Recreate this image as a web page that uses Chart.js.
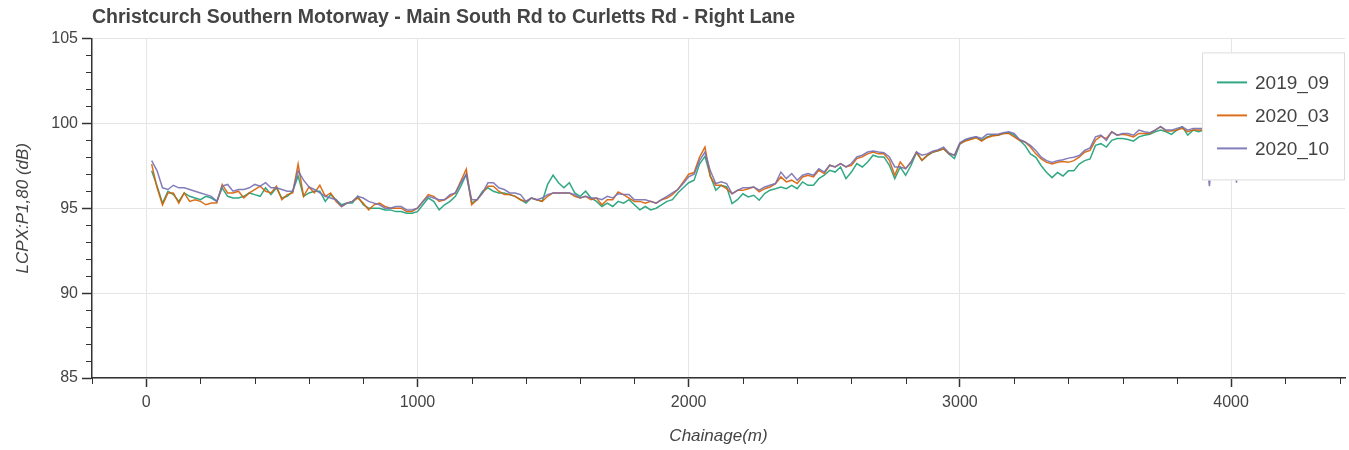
<!DOCTYPE html>
<html>
<head>
<meta charset="utf-8">
<title>Christcurch Southern Motorway - Right Lane</title>
<script src="https://cdn.jsdelivr.net/npm/chart.js@4.4.1/dist/chart.umd.min.js"></script>
<style>
    html, body { margin: 0; padding: 0; background: #fff; }
    canvas { display: block; }
</style>
</head>
<body>
<canvas id="lcpxChart" width="1349" height="450"></canvas>
<script>
// Survey chainage (m)
const chainage = [
    20, 40, 60, 80, 100, 120, 140, 160, 180, 200,
    220, 240, 260, 280, 300, 320, 340, 360, 380, 400,
    420, 440, 460, 480, 500, 520, 540, 560, 580, 600,
    620, 640, 660, 680, 700, 720, 740, 760, 780, 800,
    820, 840, 860, 880, 900, 920, 940, 960, 980, 1000,
    1020, 1040, 1060, 1080, 1100, 1120, 1140, 1160, 1180, 1200,
    1220, 1240, 1260, 1280, 1300, 1320, 1340, 1360, 1380, 1400,
    1420, 1440, 1460, 1480, 1500, 1520, 1540, 1560, 1580, 1600,
    1620, 1640, 1660, 1680, 1700, 1720, 1740, 1760, 1780, 1800,
    1820, 1840, 1860, 1880, 1900, 1920, 1940, 1960, 1980, 2000,
    2020, 2040, 2060, 2080, 2100, 2120, 2140, 2160, 2180, 2200,
    2220, 2240, 2260, 2280, 2300, 2320, 2340, 2360, 2380, 2400,
    2420, 2440, 2460, 2480, 2500, 2520, 2540, 2560, 2580, 2600,
    2620, 2640, 2660, 2680, 2700, 2720, 2740, 2760, 2780, 2800,
    2820, 2840, 2860, 2880, 2900, 2920, 2940, 2960, 2980, 3000,
    3020, 3040, 3060, 3080, 3100, 3120, 3140, 3160, 3180, 3200,
    3220, 3240, 3260, 3280, 3300, 3320, 3340, 3360, 3380, 3400,
    3420, 3440, 3460, 3480, 3500, 3520, 3540, 3560, 3580, 3600,
    3620, 3640, 3660, 3680, 3700, 3720, 3740, 3760, 3780, 3800,
    3820, 3840, 3860, 3880, 3900, 3920, 3940, 3960, 3980, 4000,
    4020, 4040
];

// LCPX:P1,80 (dB) per survey
const survey2019_09 = [
    97.2, 96.3, 95.3, 96.0, 95.8, 95.4, 95.9, 95.7, 95.6, 95.5,
    95.7, 95.6, 95.4, 96.2, 95.7, 95.6, 95.6, 95.7, 95.9, 95.8,
    95.7, 96.2, 95.8, 96.2, 95.6, 95.7, 96.0, 96.9, 95.7, 95.9,
    96.0, 96.0, 95.4, 95.8, 95.5, 95.2, 95.3, 95.3, 95.7, 95.2,
    95.0, 95.0, 95.0, 94.9, 94.9, 94.8, 94.8, 94.7, 94.7, 94.8,
    95.2, 95.6, 95.4, 94.9, 95.2, 95.4, 95.7, 96.3, 97.0, 95.3,
    95.5, 96.0, 96.2, 96.0, 95.9, 95.9, 95.8, 95.7, 95.5, 95.3,
    95.6, 95.5, 95.4, 96.4, 96.95, 96.5, 96.2, 96.5, 95.9, 95.7,
    96.0, 95.6, 95.4, 95.1, 95.3, 95.1, 95.4, 95.3, 95.5, 95.2,
    94.9, 95.1, 94.9, 95.0, 95.2, 95.4, 95.5, 95.9, 96.2, 96.5,
    96.65, 97.6, 98.05, 96.9, 96.06, 96.35, 96.25, 95.27, 95.5, 95.85,
    95.66, 95.76, 95.47, 95.86, 96.06, 96.15, 96.25, 96.15, 96.35, 96.15,
    96.55, 96.35, 96.35, 96.74, 96.94, 97.23, 97.13, 97.43, 96.74, 97.13,
    97.63, 97.43, 97.72, 98.12, 98.02, 98.02, 97.53, 96.74, 97.43, 96.94,
    97.53, 98.28, 97.82, 98.1, 98.3, 98.38, 98.5, 98.18, 97.92, 98.78,
    99.0, 99.1, 99.2, 99.0, 99.2, 99.3, 99.3, 99.4, 99.45, 99.3,
    99.0, 98.7, 98.2, 98.0, 97.5, 97.1, 96.8, 97.1, 96.9, 97.2,
    97.2, 97.6, 97.8, 97.9, 98.7, 98.8, 98.6, 99.0, 99.1, 99.1,
    99.05, 98.95, 99.2, 99.3, 99.35, 99.5, 99.6, 99.5, 99.35, 99.6,
    99.8, 99.3, 99.6, 99.5, 99.6, 99.6, 99.7, 99.6, 99.7, 99.7,
    99.6, 99.7
];

const survey2020_03 = [
    97.6, 96.2, 95.2, 95.9, 95.9, 95.3, 95.9, 95.4, 95.5, 95.4,
    95.2, 95.3, 95.3, 96.4, 95.9, 95.9, 96.0, 95.6, 95.9, 96.1,
    96.3, 96.0, 95.9, 96.3, 95.5, 95.8, 95.9, 97.6, 95.7, 96.25,
    95.9, 96.35, 95.7, 95.9, 95.4, 95.1, 95.3, 95.4, 95.6, 95.3,
    94.9, 95.2, 95.3, 95.1, 95.0, 95.0, 95.0, 94.8, 94.8, 95.0,
    95.4, 95.8, 95.7, 95.4, 95.5, 95.7, 95.9, 96.6, 97.3, 95.2,
    95.5, 95.9, 96.3, 96.3, 96.0, 95.8, 95.8, 95.7, 95.5, 95.4,
    95.6, 95.5, 95.4, 95.7, 95.9, 95.9, 95.9, 95.9, 95.7, 95.6,
    95.7, 95.5, 95.6, 95.2, 95.5, 95.5, 95.96, 95.8, 95.6, 95.4,
    95.4, 95.3, 95.4, 95.3, 95.5, 95.6, 95.8, 96.1, 96.55, 97.0,
    97.1, 98.0, 98.6, 96.85, 96.35, 96.35, 96.15, 95.85, 96.05, 96.05,
    96.15, 96.25, 95.96, 96.15, 96.25, 96.45, 96.84, 96.55, 96.65, 96.45,
    96.84, 96.94, 96.84, 97.23, 97.04, 97.53, 97.43, 97.63, 97.43, 97.53,
    97.92, 98.02, 98.2, 98.31, 98.2, 98.2, 97.82, 96.94, 97.72, 97.33,
    97.72, 98.31, 97.82, 98.12, 98.31, 98.4, 98.5, 98.2, 98.12, 98.8,
    98.95, 99.05, 99.15, 98.95, 99.15, 99.25, 99.3, 99.4, 99.4, 99.2,
    99.0, 98.9, 98.6, 98.2, 97.9, 97.7, 97.6, 97.7, 97.75, 97.7,
    97.8, 98.0, 98.3, 98.4, 99.0, 99.25, 99.1, 99.5, 99.3, 99.35,
    99.3, 99.2, 99.4, 99.4, 99.4, 99.6, 99.8, 99.55, 99.55, 99.6,
    99.7, 99.5, 99.6, 99.6, 99.6, 99.6, 99.7, 99.6, 99.7, 99.7,
    99.7, 99.7
];

const survey2020_10 = [
    97.8, 97.2, 96.2, 96.1, 96.35, 96.2, 96.2, 96.1, 96.0, 95.9,
    95.8, 95.7, 95.4, 96.3, 96.4, 96.0, 96.1, 96.1, 96.2, 96.4,
    96.3, 96.5, 96.2, 96.2, 96.1, 96.0, 96.0, 97.2, 96.65, 96.25,
    96.1, 95.9, 95.7, 95.6, 95.5, 95.1, 95.3, 95.4, 95.7, 95.6,
    95.4, 95.3, 95.2, 95.0, 95.0, 95.1, 95.1, 94.9, 94.9, 95.0,
    95.4, 95.7, 95.6, 95.5, 95.5, 95.8, 95.9, 96.5, 97.0, 95.5,
    95.5, 95.9, 96.5, 96.5, 96.2, 96.1, 95.9, 95.9, 95.8, 95.4,
    95.6, 95.5, 95.6, 95.8, 95.9, 95.9, 95.9, 95.9, 95.8, 95.6,
    95.7, 95.6, 95.6, 95.5, 95.7, 95.6, 95.85, 95.8, 95.8, 95.5,
    95.5, 95.5, 95.4, 95.3, 95.5, 95.7, 95.9, 96.1, 96.45, 96.85,
    97.0, 97.8, 98.3, 97.2, 96.45, 96.55, 96.45, 95.86, 96.05, 96.2,
    96.2, 96.25, 96.06, 96.25, 96.35, 96.45, 97.13, 96.74, 97.04, 96.65,
    96.94, 97.04, 96.94, 97.33, 97.13, 97.53, 97.43, 97.63, 97.43, 97.63,
    98.02, 98.12, 98.31, 98.37, 98.31, 98.27, 98.02, 97.43, 97.43, 97.33,
    97.72, 98.31, 98.12, 98.2, 98.35, 98.45, 98.6, 98.25, 98.12, 98.85,
    99.05, 99.15, 99.2, 99.1, 99.35, 99.35, 99.35, 99.45, 99.5, 99.4,
    99.05, 98.9, 98.7, 98.4, 98.0, 97.8, 97.7, 97.8, 97.85, 97.95,
    98.0, 98.1, 98.4, 98.55, 99.2, 99.3, 99.0, 99.5, 99.3, 99.4,
    99.4, 99.3, 99.6, 99.5, 99.45, 99.6, 99.8, 99.6, 99.6, 99.7,
    99.8, 99.6, 99.7, 99.7, 99.7, 96.3, 99.7, 99.6, 99.7, 99.7,
    96.5, 99.7
];

const seriesLabels = ['2019_09', '2020_03', '2020_10'];
const seriesValues = [survey2019_09, survey2020_03, survey2020_10];
const seriesColors = ['rgba(27, 158, 119, 0.9)', 'rgba(217, 95, 2, 0.9)', 'rgba(117, 112, 179, 0.9)'];

// Axis ranges and tick positions (labelled = major, the rest are minor)
const xRange = [-200, 4420];
const yRange = [85, 105];
const xTickValues = [
    -200, 0, 200, 400, 600, 800, 1000, 1200, 1400, 1600, 1800, 2000,
    2200, 2400, 2600, 2800, 3000, 3200, 3400, 3600, 3800, 4000, 4200, 4400
];
const yTickValues = [
    85, 86, 87, 88, 89, 90, 91, 92, 93, 94, 95,
    96, 97, 98, 99, 100, 101, 102, 103, 104, 105
];
const xLabelledTicks = [0, 1000, 2000, 3000, 4000];
const yLabelledTicks = [85, 90, 95, 100, 105];

const FONT = '"Liberation Sans", Arial, Helvetica, sans-serif';
const TEXT_COLOR = '#444';
const AXIS_COLOR = '#333';
const GRID_COLOR = '#e5e5e5';

// Is this tick one of the labelled ones?
function isMajor(list, v) {
    return list.some(m => Math.abs(m - v) < 1e-6);
}

// Short minor tick marks (Chart.js only draws one tick length)
const minorTicksPlugin = {
    id: 'minorTicks',
    afterDraw: function(chart) {
        const ctx = chart.ctx;
        const xs = chart.scales.x;
        const ys = chart.scales.y;
        ctx.save();
        ctx.strokeStyle = AXIS_COLOR;
        ctx.lineWidth = 1;
        xs.ticks.forEach(t => {
            if (isMajor(xLabelledTicks, t.value)) return;
            const px = Math.round(xs.getPixelForValue(t.value)) + 0.5;
            ctx.beginPath();
            ctx.moveTo(px, xs.top);
            ctx.lineTo(px, xs.top + 6);
            ctx.stroke();
        });
        ys.ticks.forEach(t => {
            if (isMajor(yLabelledTicks, t.value)) return;
            const py = Math.round(ys.getPixelForValue(t.value)) + 0.5;
            ctx.beginPath();
            ctx.moveTo(ys.right, py);
            ctx.lineTo(ys.right - 6, py);
            ctx.stroke();
        });
        ctx.restore();
    }
};

// Legend box drawn inside the plot, top right
const insideLegendPlugin = {
    id: 'insideLegend',
    afterDraw: function(chart) {
        const ctx = chart.ctx;
        const area = chart.chartArea;
        const w = 143, h = 128;
        const left = area.right - w;
        const top = area.top + 14;
        ctx.save();
        ctx.fillStyle = '#fff';
        ctx.fillRect(left, top, w, h);
        ctx.strokeStyle = '#dcdcdc';
        ctx.lineWidth = 1;
        ctx.strokeRect(left + 0.5, top + 0.5, w - 1, h - 1);
        ctx.font = '19px ' + FONT;
        ctx.textBaseline = 'middle';
        chart.data.datasets.forEach((ds, i) => {
            const y = top + 30 + i * 33;
            ctx.strokeStyle = ds.borderColor;
            ctx.lineWidth = 2;
            ctx.beginPath();
            ctx.moveTo(left + 15, y);
            ctx.lineTo(left + 45, y);
            ctx.stroke();
            ctx.fillStyle = TEXT_COLOR;
            ctx.fillText(ds.label, left + 53, y + 1);
        });
        ctx.restore();
    }
};

const datasets = seriesLabels.map((label, i) => ({
    label: label,
    data: chainage.map((c, j) => ({ x: c, y: seriesValues[i][j] })),
    borderColor: seriesColors[i],
    backgroundColor: seriesColors[i],
    borderWidth: 1.5,
    pointRadius: 0,
    tension: 0,
    fill: false,
    order: 3 - i
}));

new Chart(document.getElementById('lcpxChart'), {
    type: 'line',
    data: { datasets: datasets },
    options: {
        responsive: false,
        animation: false,
        layout: { padding: { left: 0, right: 4, top: 0, bottom: 0 } },
        plugins: {
            legend: { display: false },
            tooltip: { enabled: false },
            title: {
                display: true,
                text: 'Christcurch Southern Motorway - Main South Rd to Curletts Rd - Right Lane',
                align: 'start',
                fullSize: false,
                color: TEXT_COLOR,
                font: { family: FONT, size: 19.5, weight: 'bold' },
                padding: { top: 6, bottom: 9 }
            }
        },
        scales: {
            x: {
                type: 'linear',
                min: xRange[0],
                max: xRange[1],
                afterBuildTicks: function(scale) {
                    scale.ticks = xTickValues.map(v => ({ value: v }));
                },
                afterFit: function(scale) { scale.height = 72; },
                border: { color: AXIS_COLOR, width: 1.5 },
                grid: {
                    color: ctx => isMajor(xLabelledTicks, ctx.tick.value) ? GRID_COLOR : 'transparent',
                    tickColor: ctx => isMajor(xLabelledTicks, ctx.tick.value) ? AXIS_COLOR : 'transparent',
                    tickLength: 9,
                    tickWidth: 1.5
                },
                ticks: {
                    autoSkip: false,
                    maxRotation: 0,
                    padding: 6,
                    color: TEXT_COLOR,
                    font: { family: FONT, size: 16 },
                    callback: v => isMajor(xLabelledTicks, v) ? String(Math.round(v)) : ''
                },
                title: {
                    display: true,
                    text: 'Chainage(m)',
                    color: TEXT_COLOR,
                    font: { family: FONT, size: 17, style: 'italic' },
                    padding: { top: 0, bottom: 4 }
                }
            },
            y: {
                type: 'linear',
                min: yRange[0],
                max: yRange[1],
                afterBuildTicks: function(scale) {
                    scale.ticks = yTickValues.map(v => ({ value: v }));
                },
                afterFit: function(scale) { scale.width = 92; },
                border: { color: AXIS_COLOR, width: 1.5 },
                grid: {
                    color: ctx => isMajor(yLabelledTicks, ctx.tick.value) ? GRID_COLOR : 'transparent',
                    tickColor: ctx => isMajor(yLabelledTicks, ctx.tick.value) ? AXIS_COLOR : 'transparent',
                    tickLength: 10,
                    tickWidth: 1.5
                },
                ticks: {
                    autoSkip: false,
                    padding: 4,
                    color: TEXT_COLOR,
                    font: { family: FONT, size: 16 },
                    callback: v => isMajor(yLabelledTicks, v) ? String(Math.round(v)) : ''
                },
                title: {
                    display: true,
                    text: 'LCPX:P1,80 (dB)',
                    color: TEXT_COLOR,
                    font: { family: FONT, size: 17, style: 'italic' },
                    padding: { top: 13, bottom: 0 }
                }
            }
        }
    },
    plugins: [minorTicksPlugin, insideLegendPlugin]
});
</script>
</body>
</html>
